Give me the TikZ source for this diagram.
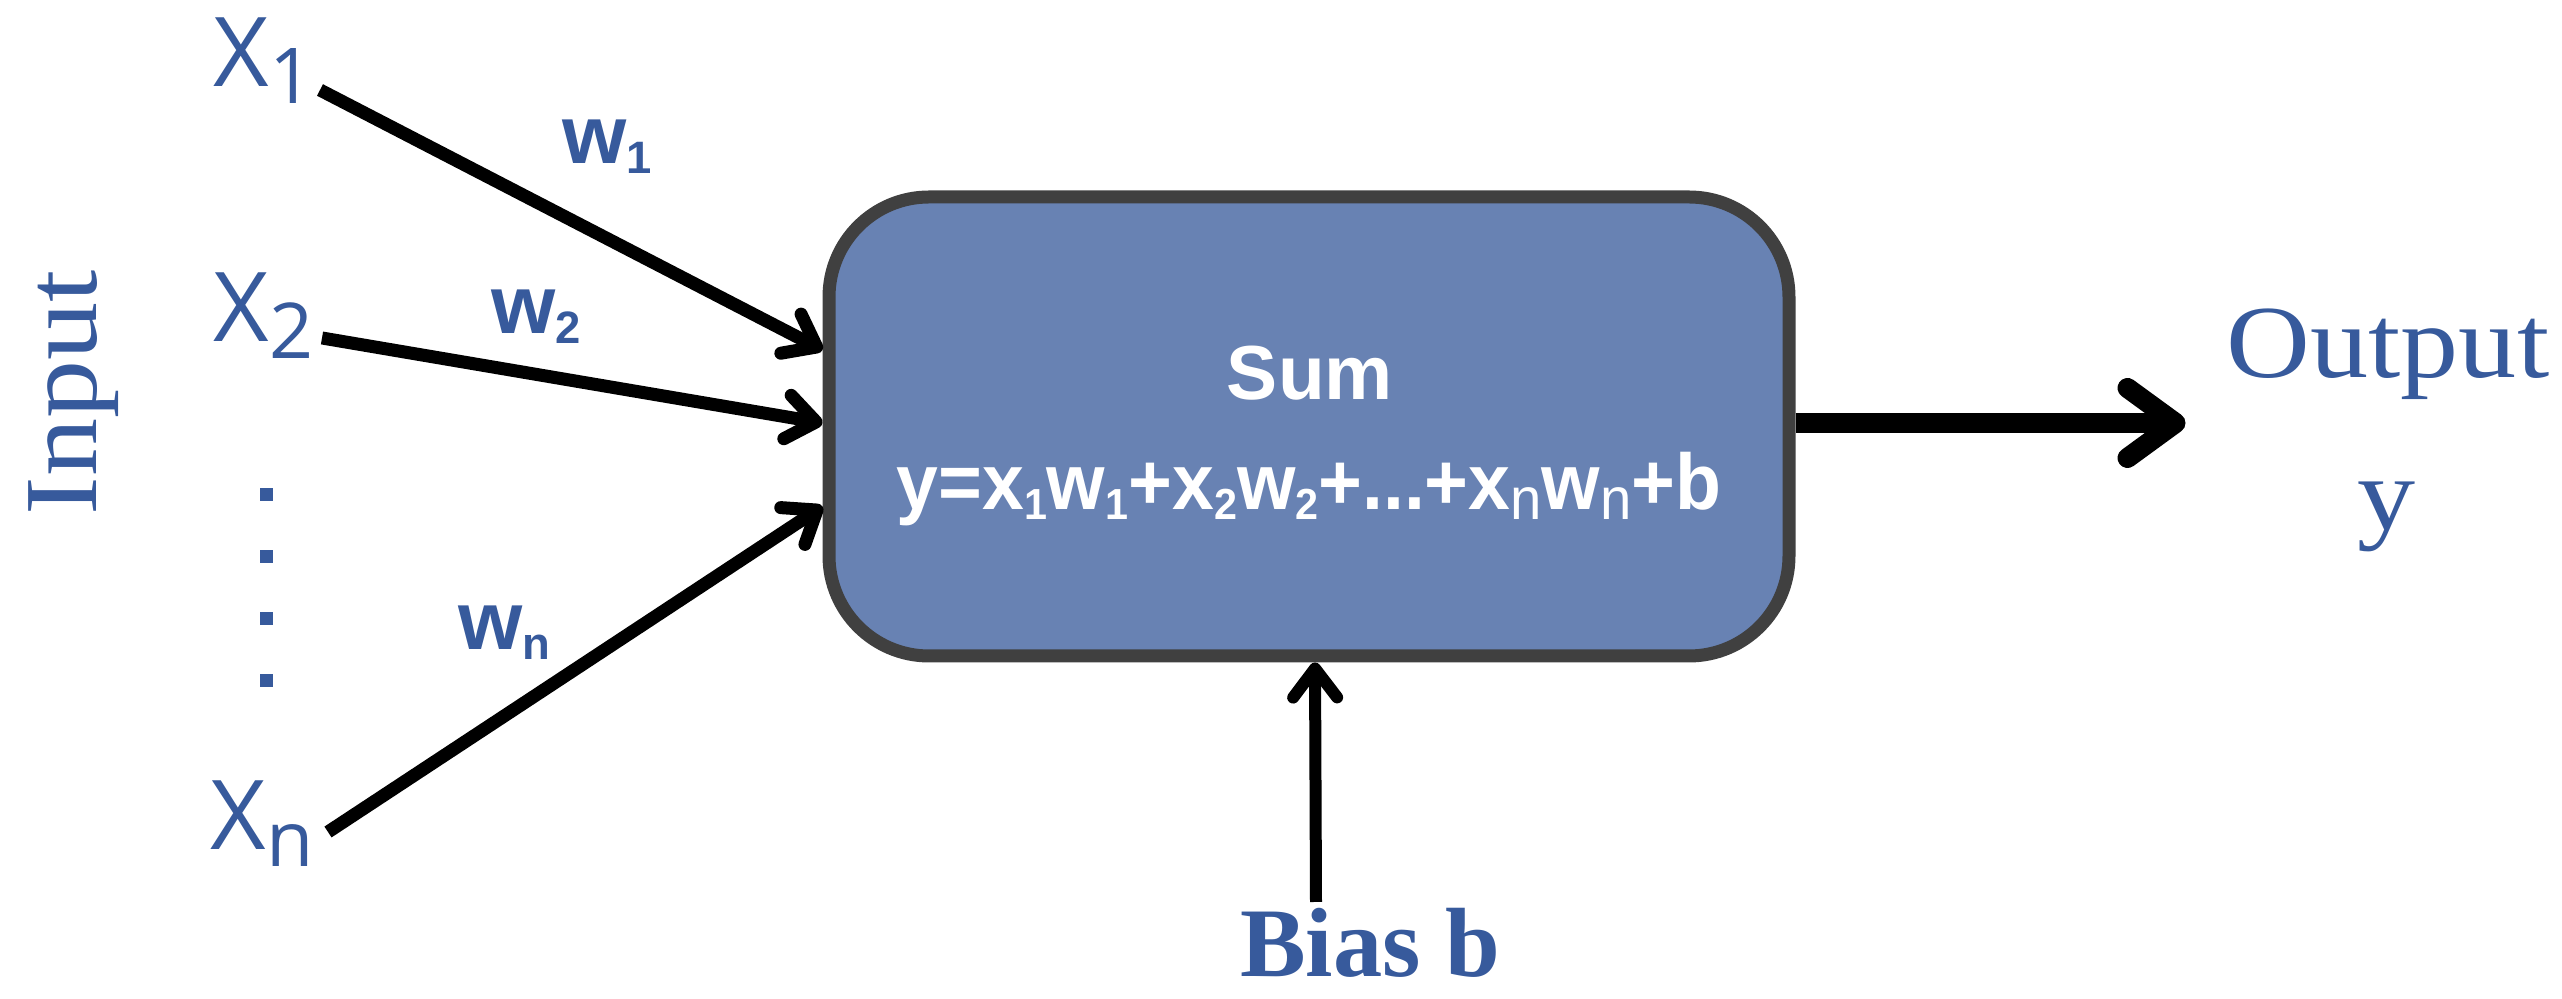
\documentclass[tikz,border=0pt]{standalone}
\usepackage{fontspec}
\usepackage{graphicx}
\usepackage{xcolor}
\usetikzlibrary{arrows.meta}

\newfontfamily\opensans{Open Sans}
\newfontfamily\libsans{Liberation Sans}
\newfontfamily\libserif{Liberation Serif}

\definecolor{inkblue}{HTML}{375A9C}
\definecolor{boxfill}{HTML}{6882B3}
\definecolor{boxline}{HTML}{404040}

% lowered indices
\newcommand{\xsub}[1]{\raisebox{-0.17em}{\scalebox{0.8}{#1}}}
\newcommand{\wsub}[1]{\raisebox{-0.12em}{\scalebox{0.55}{#1}}}
\newcommand{\nsub}{\raisebox{-0.12em}{\mdseries\scalebox{0.75}{n}}}
\newcommand{\narrow}[1]{\scalebox{0.95}[1]{#1}}
\newcommand{\wide}[1]{\scalebox{1.12}[1]{#1}}

\begin{document}
\begin{tikzpicture}
		[xlabel/.style ={text=inkblue, font=\opensans\fontsize{27.4}{30}\selectfont, inner sep=0pt, anchor=base west},
 wlabel/.style ={text=inkblue, font=\libsans\bfseries\fontsize{23.5}{26}\selectfont, inner sep=0pt, anchor=base west},
 serifname/.style ={text=inkblue, font=\libserif\fontsize{29.5}{32}\selectfont, inner sep=0pt, anchor=base},
 block/.style ={rectangle, draw=boxline, line width=0.13cm, fill=boxfill, rounded corners=1cm, minimum width=9.6cm, minimum height=4.59cm},
 sumtext/.style ={text=white, font=\libsans\bfseries\fontsize{21.8}{24}\selectfont, inner sep=0pt, anchor=base},
 dotsq/.style ={rectangle, fill=inkblue, minimum size=0.13cm, inner sep=0pt},
 line/.style ={draw, line width=0.13cm, -{Straight Barb[length=2.9mm, width=4.4mm, round]}},
 outarrow/.style ={draw, line width=0.2cm, -{Straight Barb[length=4.8mm, width=7mm, round]}}]
		\useasboundingbox (0,0) rectangle (25.62,9.99);

		% neuron
		\node[block] (sum) at (13.09,5.725) {};
		\node[sumtext] (sumlabel) at (13.10,5.99) {Sum};
		\node[sumtext, font=\libsans\bfseries\fontsize{22.5}{25}\selectfont] (formula) at (13.09,4.89)
			{\narrow{y=x\wsub{1}w\wsub{1}+x\wsub{2}w\wsub{2}+...+x\nsub w\nsub+b}};

		% inputs
		\node[serifname, rotate=90] (input) at (0.97,6.06) {\wide{Input}};
		\node[xlabel] (x1) at (2.13,9.12) {X\xsub{1}};
		\node[xlabel] (x2) at (2.13,6.57) {X\xsub{2}};
		\node[xlabel] (xn) at (2.10,1.49) {X\xsub{n}};
		\foreach \i/\y in {1/5.04, 2/4.42, 3/3.80, 4/3.18}
			\node[dotsq] (dot\i) at (2.66,\y) {};

		\node[wlabel] (w1) at (5.62,8.35) {w\wsub{1}};
		\node[wlabel] (w2) at (4.91,6.65) {w\wsub{2}};
		\node[wlabel] (wn) at (4.58,3.49) {w\wsub{n}};

		\coordinate (s1) at (3.20,9.09);
		\coordinate (s2) at (3.22,6.61);
		\coordinate (sn) at (3.28,1.67);
		\coordinate (t1) at ([yshift=7.65mm]sum.west);
		\coordinate (t2) at ([yshift=0.35mm]sum.west);
		\coordinate (tn) at ([yshift=-8mm]sum.west);
		\draw[line] (s1) -- (t1);
		\draw[line] (s2) -- (t2);
		\draw[line] (sn) -- (tn);

		% output
		\coordinate (outstart) at ([yshift=0.35mm]sum.east);
		\coordinate (outend) at ([xshift=3.9cm]outstart);
		\draw[outarrow] (outstart) -- (outend);
		\node[serifname] (output) at (23.88,6.21) {\wide{Output}};
		\node[serifname] (outy) at (23.87,4.69) {\wide{y}};

		% bias
		\coordinate (bstart) at (13.16,0.97);
		\draw[line, line width=0.12cm] (bstart) -- ([xshift=0.6mm]sum.south);
		\node[serifname, font=\libserif\bfseries\fontsize{28}{31}\selectfont] (bias) at (13.70,0.22) {Bias b};
	\end{tikzpicture}
\end{document}
